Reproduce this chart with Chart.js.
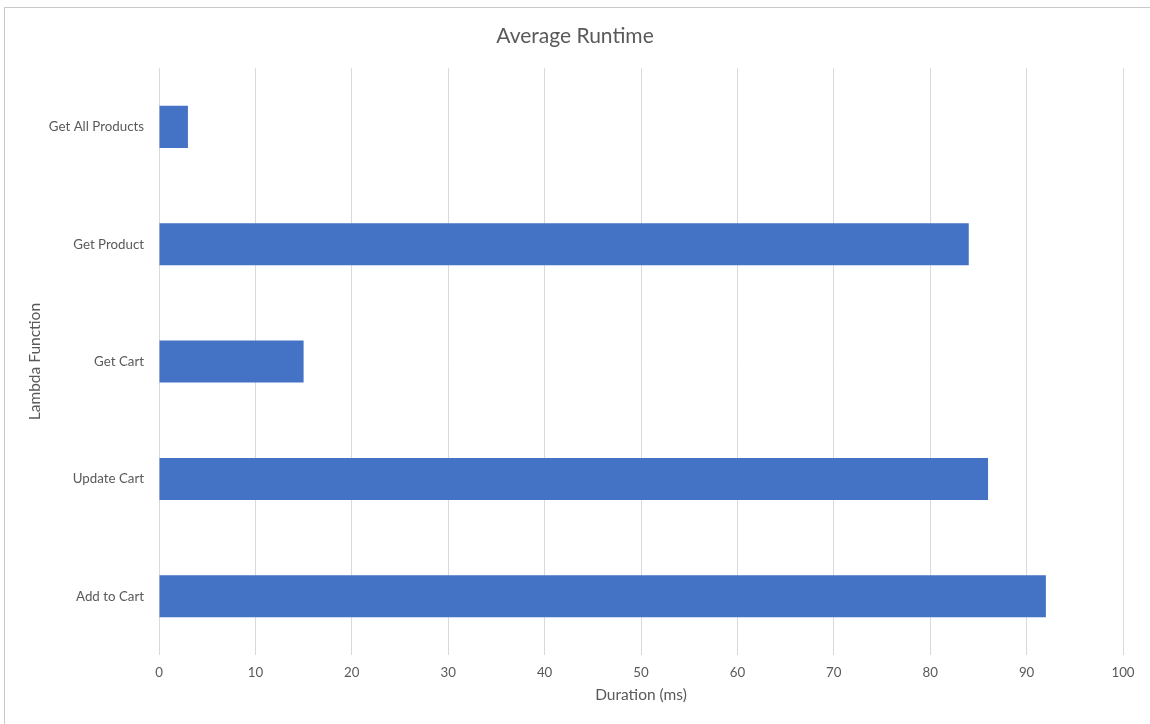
<!DOCTYPE html>
<html>
<head>
<meta charset="utf-8">
<script src="https://cdn.jsdelivr.net/npm/chart.js@4.4.0/dist/chart.umd.min.js"></script>
<style>
  html, body { margin: 0; padding: 0; background: #fff; overflow: hidden; }
  #frame {
    position: absolute; left: 4px; top: 7px;
    width: 1300px; height: 900px;
    border: 1px solid #c9c9c9;
  }
  #wrap { position: absolute; left: 0; top: 0; width: 1150px; height: 724px; }
</style>
</head>
<body>
<div id="frame"></div>
<div id="wrap"><canvas id="runtimeChart" width="1150" height="724"></canvas></div>
<script>
// 람다 함수별 평균 실행 시간 (ms)
const functionNames = ['Get All Products', 'Get Product', 'Get Cart', 'Update Cart', 'Add to Cart'];
const avgDurations = [3, 84, 15, 86, 92];
const durationTicks = [0, 10, 20, 30, 40, 50, 60, 70, 80, 90, 100];

const textColor = '#595959';
const gridColor = '#d9d9d9';
const fontFamily = 'Lato, "Open Sans", sans-serif';

const ctx = document.getElementById('runtimeChart').getContext('2d');
const runtimeChart = new Chart(ctx, {
    type: 'bar',
    data: {
        labels: functionNames,
        datasets: [{
            label: 'Average Runtime',
            data: avgDurations,
            backgroundColor: '#4472C4',
            borderWidth: 0,
            barPercentage: 0.358,
            categoryPercentage: 1.0
        }]
    },
    options: {
        indexAxis: 'y',
        responsive: false,
        animation: false,
        devicePixelRatio: 1,
        // 좌우 여백을 맞춰야 제목이 가운데에 온다
        layout: { padding: { left: 27, right: 27, top: 0, bottom: 0 } },
        plugins: {
            legend: { display: false },
            tooltip: { enabled: false },
            title: {
                display: true,
                text: 'Average Runtime',
                color: textColor,
                font: { family: fontFamily, size: 21, weight: 'normal' },
                padding: { top: 24, bottom: 19 }
            }
        },
        scales: {
            x: {
                min: 0,
                max: 100,
                afterBuildTicks: (scale) => {
                    scale.ticks = durationTicks.map(v => ({ value: v }));
                },
                afterFit: (scale) => { scale.height = 69; },
                grid: { color: gridColor, lineWidth: 1, drawTicks: false },
                border: { display: false },
                ticks: {
                    color: textColor,
                    padding: 10,
                    font: { family: fontFamily, size: 13.3 }
                },
                title: {
                    display: true,
                    text: 'Duration (ms)',
                    color: textColor,
                    font: { family: fontFamily, size: 15.5 },
                    padding: { top: 0, bottom: 20 }
                }
            },
            y: {
                afterFit: (scale) => { scale.width = 132; },
                grid: { display: false, drawTicks: false },
                border: { display: false },
                ticks: {
                    color: textColor,
                    padding: 15,
                    font: { family: fontFamily, size: 13.3 }
                },
                title: {
                    display: true,
                    text: 'Lambda Function',
                    color: textColor,
                    font: { family: fontFamily, size: 15.5 },
                    padding: { top: -1, bottom: 0 }
                }
            }
        }
    }
});
</script>
</body>
</html>
